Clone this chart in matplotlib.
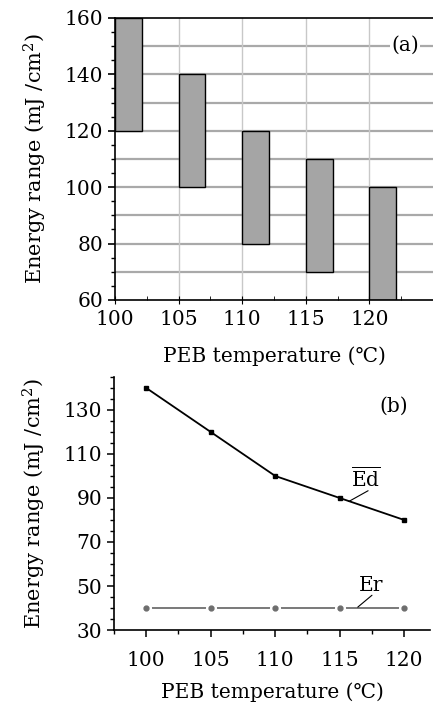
import matplotlib
matplotlib.use("Agg")
import matplotlib.pyplot as plt
from matplotlib.ticker import MultipleLocator

plt.rcParams['font.family'] = ['DejaVu Serif', 'DejaVu Sans']
plt.rcParams['mathtext.fontset'] = 'dejavuserif'

# panel (a): energy windows per PEB temperature
temps = [100, 105, 110, 115, 120]
range_low = [120, 100, 80, 70, 60]
range_high = [160, 140, 120, 110, 100]

# panel (b): dose curves
ed_vals = [140, 120, 100, 90, 80]
er_vals = [40, 40, 40, 40, 40]

ylabel = "Energy range (mJ /cm$^2$)"
xlabel = "PEB temperature (\u2103)"

fig = plt.figure(figsize=(4.33, 7.07), dpi=100)

# ---- (a)
ax1 = fig.add_axes([0.2656, 0.5757, 0.7344, 0.3989])
ax1.set_xlim(100, 125)
ax1.set_ylim(60, 160)
ax1.yaxis.set_major_locator(MultipleLocator(20))
ax1.yaxis.set_minor_locator(MultipleLocator(5))
ax1.set_xticks(temps)
ax1.xaxis.set_minor_locator(MultipleLocator(2.5))
for v in range(70, 160, 10):
    ax1.axhline(v, color='#a9a9a9', lw=1.6, zorder=0)
for t in temps[1:]:
    ax1.axvline(t, color='#c8c8c8', lw=1.0, zorder=0)
heights = [h - l for h, l in zip(range_high, range_low)]
ax1.bar(temps, heights, bottom=range_low, width=2.1, align='edge',
        color='#a5a5a5', edgecolor='black', linewidth=1.0, zorder=2)
ax1.spines['right'].set_visible(False)
for s in ('left', 'bottom', 'top'):
    ax1.spines[s].set_linewidth(1.2)
ax1.tick_params(axis='y', which='major', direction='out', length=5, width=1.2, labelsize=14.5)
ax1.tick_params(axis='y', which='minor', direction='out', length=3, width=1.0)
ax1.tick_params(axis='x', which='major', direction='inout', length=6, labelsize=14.5, pad=4)
ax1.tick_params(axis='x', which='minor', direction='in', length=3)
ax1.set_ylabel(ylabel, fontsize=15, labelpad=11)
ax1.set_xlabel(xlabel, fontsize=14.5, labelpad=13)
ax1.text(122.8, 150.4, "(a)", fontsize=14.5, ha='center', va='center',
         bbox=dict(facecolor='white', edgecolor='none', pad=1), zorder=3)

# ---- (b)
ax2 = fig.add_axes([0.2633, 0.1089, 0.7298, 0.3579])
ax2.set_xlim(97.5, 122)
ax2.set_ylim(30, 145)
ax2.plot(temps, ed_vals, color='black', lw=1.3, marker='s', ms=3, zorder=3)
ax2.plot(temps, er_vals, color='#6e6e6e', lw=1.3, zorder=2)
ax2.plot(temps, er_vals, ls='none', marker='o', ms=7, color='white', zorder=3)
ax2.plot(temps, er_vals, ls='none', marker='o', ms=3.5, color='#6e6e6e', zorder=4)
ax2.spines['right'].set_visible(False)
ax2.spines['top'].set_visible(False)
for s in ('left', 'bottom'):
    ax2.spines[s].set_linewidth(1.2)
ax2.set_yticks(range(30, 140, 20))
ax2.yaxis.set_minor_locator(MultipleLocator(5))
ax2.set_xticks(temps)
ax2.xaxis.set_minor_locator(MultipleLocator(2.5))
ax2.tick_params(axis='both', which='major', direction='out', length=5, width=1.1, labelsize=14.5)
ax2.tick_params(axis='both', which='minor', direction='out', length=3, width=1.0)
ax2.tick_params(axis='x', which='major', pad=10)
ax2.set_ylabel(ylabel, fontsize=15, labelpad=11)
ax2.set_xlabel(xlabel, fontsize=14.5, labelpad=9)
ax2.text(119.2, 131.8, "(b)", fontsize=14.5, ha='center', va='center')

ax2.text(117.0, 99.0, r"$\overline{\mathrm{Ed}}$", fontsize=14.5, ha='center', va='center')
ax2.annotate("", xy=(115.7, 88.4), xytext=(117.2, 93.3),
             arrowprops=dict(arrowstyle='-', color='black', lw=0.8, shrinkA=0, shrinkB=0))
ax2.text(117.4, 50.4, "Er", fontsize=14.5, ha='center', va='center')
ax2.annotate("", xy=(116.4, 40.4), xytext=(117.5, 45.8),
             arrowprops=dict(arrowstyle='-', color='black', lw=0.8, shrinkA=0, shrinkB=0))

fig.savefig("out.png", dpi=100)
